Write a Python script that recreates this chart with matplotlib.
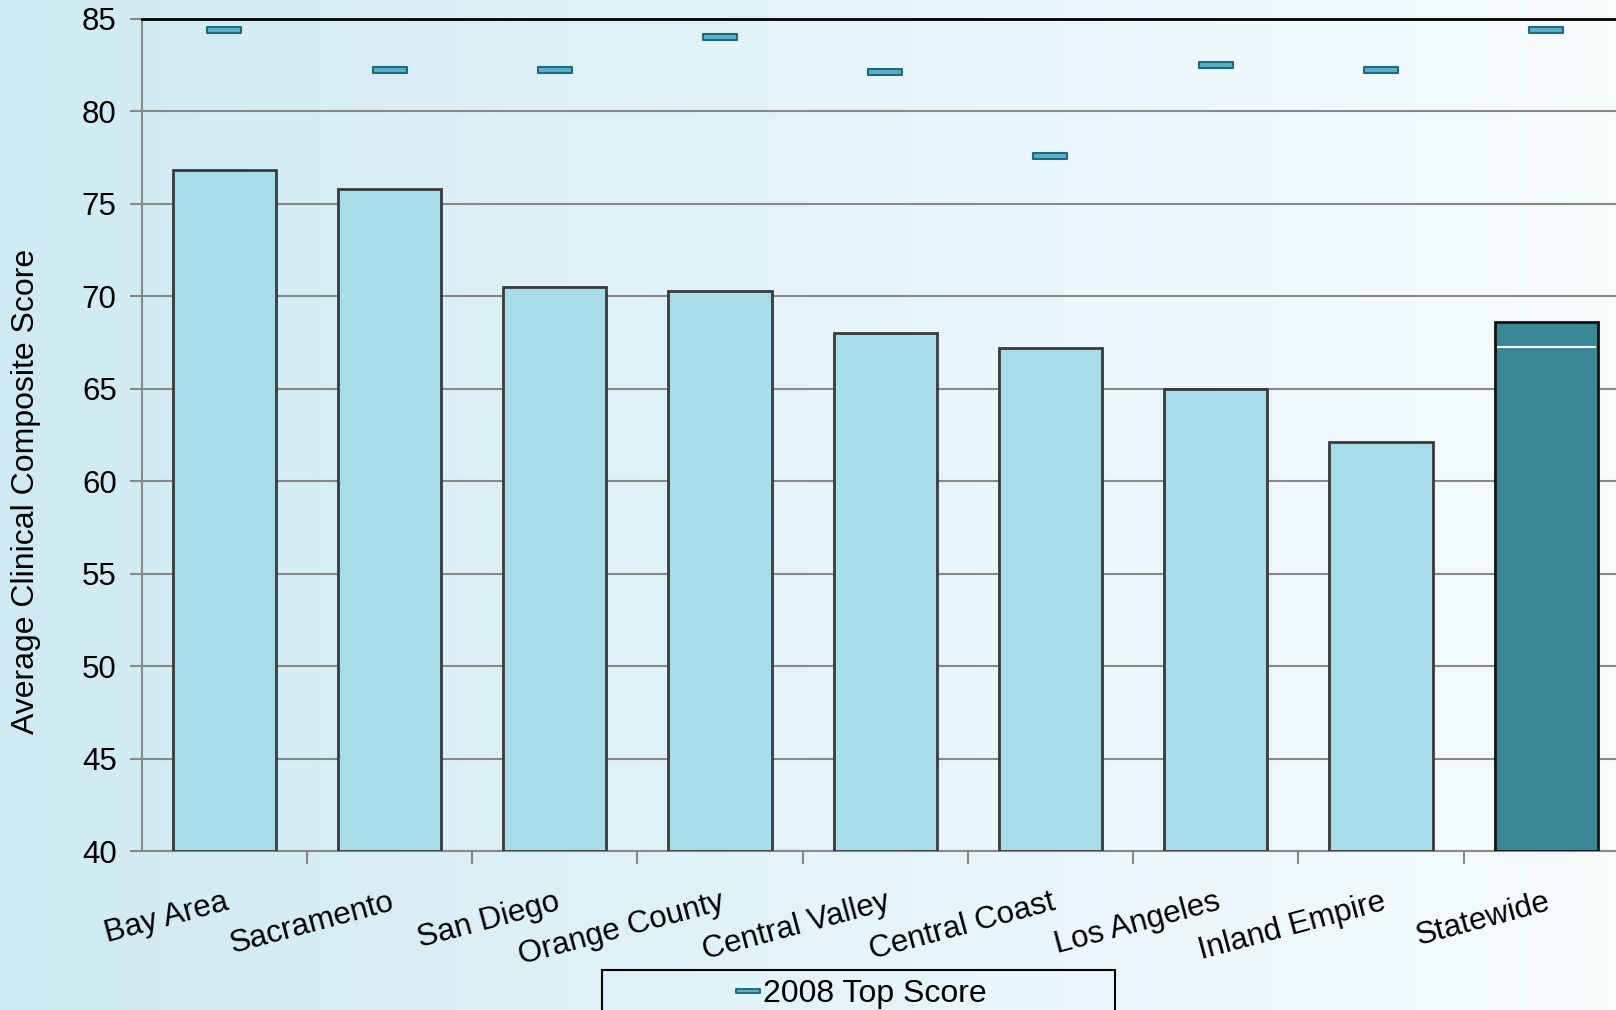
import numpy as np
import matplotlib
matplotlib.use("Agg")
import matplotlib.pyplot as plt
from matplotlib.path import Path
from matplotlib.patches import Rectangle
from matplotlib.lines import Line2D

plt.rcParams['font.family'] = ['Liberation Sans', 'DejaVu Sans']

# data
regions = ['Bay Area', 'Sacramento', 'San Diego', 'Orange County', 'Central Valley',
           'Central Coast', 'Los Angeles', 'Inland Empire', 'Statewide']
avg_score = [76.8, 75.8, 70.5, 70.3, 68.0, 67.2, 65.0, 62.1, 68.6]
top_2008 = [84.4, 82.2, 82.2, 84.0, 82.1, 77.6, 82.5, 82.2, 84.4]
statewide_mark = 67.25
yticks = [40, 45, 50, 55, 60, 65, 70, 75, 80, 85]

fig = plt.figure(figsize=(16.16, 10.10), dpi=100)

# gradient background
bg = fig.add_axes([0, 0, 1, 1], zorder=-10)
grad = np.linspace(0, 1, 256).reshape(1, -1)
cmap = matplotlib.colors.LinearSegmentedColormap.from_list('bg', ['#cfeaf2', '#e4f4f8', '#f7fcfd'])
bg.imshow(grad, aspect='auto', cmap=cmap, extent=[0, 1, 0, 1])
bg.set_axis_off()

ax = fig.add_axes([0.0877, 0.1574, 0.9202, 0.8241])
ax.patch.set_alpha(0)

x = np.arange(len(regions))
colors = ['#a6dde8'] * (len(regions) - 1) + ['#3a8796']
edges = ['#3a3a3a'] * (len(regions) - 1) + ['#111111']
ax.bar(x, [v - 40 for v in avg_score], bottom=40, width=0.625, color=colors,
       edgecolor=edges, linewidth=2, zorder=3)
ax.hlines(statewide_mark, x[-1] - 0.3, x[-1] + 0.3, color='white', lw=1.5, zorder=4)

# flat rectangle marker for top scores
rect = Path([(-1, -0.2), (1, -0.2), (1, 0.2), (-1, 0.2), (-1, -0.2)],
            [Path.MOVETO, Path.LINETO, Path.LINETO, Path.LINETO, Path.CLOSEPOLY])
ax.plot(x, top_2008, ls='none', marker=rect, markersize=24, markerfacecolor='#5bb0c9',
        markeredgecolor='#1e6b80', markeredgewidth=1.5, zorder=5)

ax.set_ylim(40, 85)
ax.set_xlim(-0.5, len(regions) - 0.5)
ax.set_yticks(yticks)
ax.tick_params(axis='y', labelsize=22.5, length=9, width=1.5, color='#888888', pad=9)
ax.set_xticks(np.arange(len(regions)) + 0.5)
ax.set_xticks(x, minor=True)
ax.set_xticklabels([])
ax.set_xticklabels(regions, minor=True, rotation=15, ha='right', va='top',
                   rotation_mode='anchor', fontsize=22.5)
ax.tick_params(axis='x', which='major', length=9, width=1.5, color='#888888')
ax.tick_params(axis='x', which='minor', length=0, pad=26)
ax.grid(axis='y', color='#888888', lw=1.5, zorder=0)
ax.set_axisbelow(True)

for s in ['left', 'bottom']:
    ax.spines[s].set_color('#888888')
    ax.spines[s].set_linewidth(1.5)
ax.spines['right'].set_visible(False)
ax.spines['top'].set_color('black')
ax.spines['top'].set_linewidth(2)

ax.set_ylabel('Average Clinical Composite Score', fontsize=23, va='center')
ax.yaxis.set_label_coords(-0.078, 0.432)

# legend box
fig.patches.append(Rectangle((602 / 1616, -0.05), 513 / 1616, 0.05 + 40 / 1010,
                             transform=fig.transFigure, fill=False, edgecolor='black',
                             lw=1.5))
handle = Line2D([], [], ls='none', marker=rect, markersize=17, markerfacecolor='#5bb0c9',
                markeredgecolor='#1e6b80', markeredgewidth=1.4)
fig.legend([handle], ['2008 Top Score'], loc='center', bbox_to_anchor=(862 / 1616, 1 - 994 / 1010),
           frameon=False, fontsize=23, handlelength=0.65, handletextpad=0.15, borderpad=0)

fig.savefig('out.png', dpi=100)
